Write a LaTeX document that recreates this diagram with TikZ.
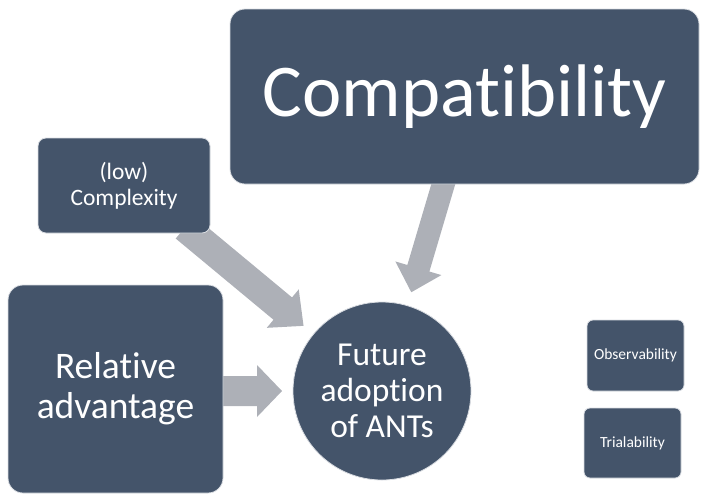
\documentclass[tikz,border=0pt]{standalone}
\usepackage{fontspec}
\setmainfont{Carlito}[RawFeature={-liga}]
\usetikzlibrary{calc,backgrounds}
\definecolor{boxfill}{RGB}{68,84,106}
\definecolor{arrowfill}{RGB}{173,176,183}
\definecolor{boxedge}{RGB}{218,221,226}
\newcommand\blockarrow[6]{% #1 start, #2 target node, #3 tip distance from target centre, #4 shaft half width, #5 head half width, #6 head length
  \fill[arrowfill] let \p1=(#1), \p2=(#2), \n1={atan2(\y2-\y1,\x2-\x1)}, \n2={veclen(\x2-\x1,\y2-\y1)-#3} in
    [shift={(\p1)}, rotate=\n1] (0pt,#4) -- ({\n2-#6},#4) -- ({\n2-#6},#5) -- (\n2,0pt) -- ({\n2-#6},-#5) -- ({\n2-#6},-#4) -- (0pt,-#4) -- cycle;}
\tikzset{
  boxnode/.style={rectangle, fill=boxfill, draw=boxedge, line width=0.8pt, text=white, align=center, inner sep=0pt},
  circnode/.style={circle, fill=boxfill, draw=boxedge, line width=0.8pt, text=white, align=center, inner sep=0pt, minimum size=178pt},
}
\begin{document}
\begin{tikzpicture}[x=1pt,y=-1pt]
\useasboundingbox (0,0) rectangle (701,493);
\node[boxnode, rounded corners=15pt, minimum width=469pt, minimum height=175pt,
      font=\fontsize{74.5}{80}\selectfont] (comp) at (464.5,96.5) {Compatibility};
\node[boxnode, rounded corners=8pt, minimum width=172pt, minimum height=95pt,
      font=\fontsize{23.5}{26}\selectfont] (cplx) at (124,185.5) {(low)\\Complexity};
\node[boxnode, rounded corners=15pt, minimum width=215pt, minimum height=208pt,
      font=\fontsize{37.5}{40}\selectfont] (rel) at (115.5,389) {Relative\\advantage};
\node[boxnode, rounded corners=6pt, minimum width=97pt, minimum height=71pt,
      font=\fontsize{15.5}{18}\selectfont] (obs) at (635.5,355.5) {Observability};
\node[boxnode, rounded corners=6pt, minimum width=97pt, minimum height=70pt,
      font=\fontsize{15.5}{18}\selectfont] (tri) at (632.5,443) {Trialability};
\node[circnode, font=\fontsize{33.5}{36}\selectfont] (fut) at (382,391) {Future\\adoption\\of ANTs};
\coordinate (s1) at ($(cplx.south)+(61,-6)$);
\coordinate (s2) at ($(comp.south)+(-19.5,-6)$);
\coordinate (s3) at ($(rel.east)+(-6,2)$);
\begin{scope}[on background layer]
\blockarrow{s1}{fut}{102pt}{14.5pt}{25pt}{27pt}
\blockarrow{s2}{fut}{103pt}{11.5pt}{24pt}{25pt}
\blockarrow{s3}{fut}{100pt}{15pt}{26pt}{25pt}
\end{scope}
\end{tikzpicture}
\end{document}
